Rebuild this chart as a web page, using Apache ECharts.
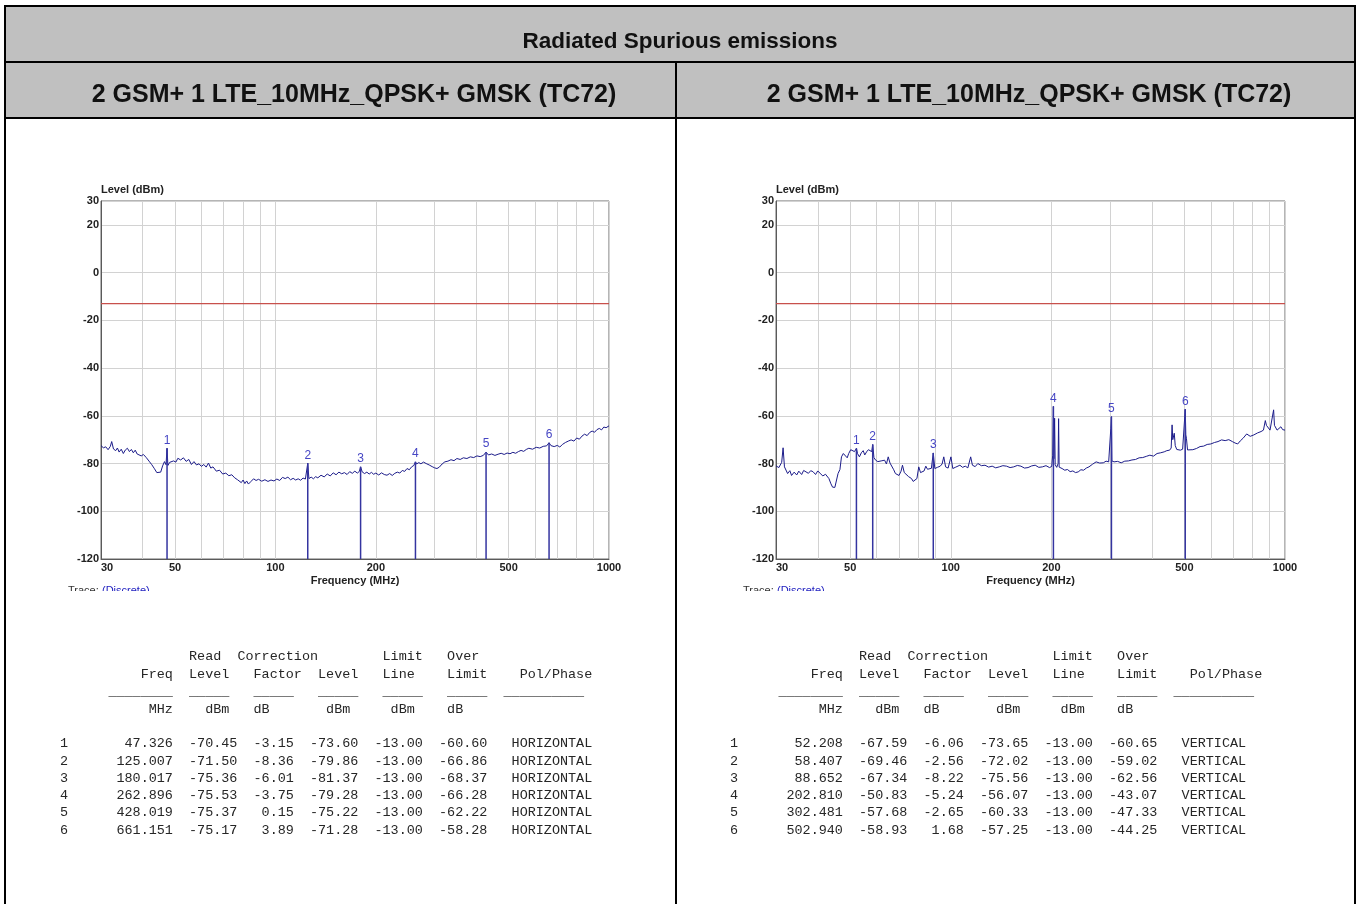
<!DOCTYPE html>
<html><head><meta charset="utf-8">
<script src="https://cdn.jsdelivr.net/npm/echarts@6/dist/echarts.min.js"></script>
<style>html,body{margin:0;padding:0;background:#fff}#c{width:1359px;height:904px}</style>
</head><body><div id="c"></div>
<script>
// ---------- data ----------
const mainTitle = 'Radiated Spurious emissions';
const leftSubtitle = '2 GSM+ 1 LTE_10MHz_QPSK+ GMSK (TC72)';
const rightSubtitle = '2 GSM+ 1 LTE_10MHz_QPSK+ GMSK (TC72)';
const xTickLabels = [30, 50, 100, 200, 500, 1000];
const xGridFreqs = [30, 40, 50, 60, 70, 80, 90, 100, 200, 300, 400, 500, 600, 700, 800, 900, 1000];
const yTickLabels = [-120, -100, -80, -60, -40, -20, 0, 20, 30];
const limitLevel = -13;

// left trace [MHz, dBm]
const leftTrace = [
 [30,-72.5],[30.5,-73.4],[31,-73.0],[31.5,-74.2],[32,-72.8],[32.3,-70.8],[32.7,-73.9],[33.2,-74.6],[33.6,-73.5],[34,-75.2],
 [34.5,-74.0],[35,-75.8],[35.5,-74.3],[36,-73.6],[36.5,-75.0],[37,-74.1],[37.5,-75.5],[38,-74.4],[38.5,-76.0],[39,-75.3],
 [39.6,-76.8],[40.2,-76.2],[41,-77.5],[41.8,-79.0],[42.6,-80.5],[43.4,-82.2],[44.1,-83.8],[44.7,-84.5],[45.3,-83.6],[45.9,-81.0],
 [46.5,-79.2],[47.0,-80.5],[47.326,-73.6],[47.6,-80.8],[48.2,-79.5],[48.8,-80.3],[49.5,-78.9],[50.3,-79.4],[51,-77.8],[52,-78.5],
 [53,-77.6],[54,-79.1],[55,-78.3],[56,-80.4],[57,-79.2],[58,-80.6],[59,-80.1],[60,-81.2],[61,-80.4],[62,-81.5],
 [63,-79.8],[64,-81.9],[65,-81.4],[66.5,-83.2],[68,-82.8],[69.5,-84.4],[71,-84.0],[72.5,-85.1],[74,-84.7],[75.5,-86.0],
 [77,-86.8],[78,-86.2],[79,-88.0],[80,-86.9],[81,-88.4],[82,-87.3],[83,-88.6],[84.5,-87.5],[86,-86.4],[87.5,-87.1],
 [89,-86.6],[91,-87.4],[93,-86.8],[95,-87.5],[97,-86.9],[99,-87.3],[101,-86.5],[103,-87.1],[105,-85.8],[107,-86.3],
 [109,-85.7],[111,-86.8],[113,-86.2],[115,-86.9],[117,-86.4],[119,-87.0],[121,-86.1],[123,-86.5],[125.007,-79.86],[126,-86.3],
 [128,-85.7],[130,-86.4],[132,-85.5],[134,-86.0],[137,-84.9],[140,-85.6],[143,-84.4],[146,-85.2],[149,-83.9],[152,-84.7],
 [155,-83.6],[158,-84.3],[161,-83.8],[164,-84.6],[167,-83.4],[170,-84.1],[173,-83.2],[176,-84.0],[178.5,-83.3],[180.017,-81.37],
 [182,-83.5],[185,-84.2],[188,-83.6],[191,-84.4],[194,-83.7],[197,-84.5],[200,-84.0],[204,-84.8],[208,-83.9],[212,-84.6],
 [216,-84.9],[220,-84.2],[224,-85.0],[228,-84.1],[232,-83.6],[236,-84.0],[240,-82.9],[244,-83.3],[248,-82.1],[252,-82.6],
 [256,-81.4],[260,-80.8],[262.896,-79.28],[265,-80.2],[269,-79.6],[273,-80.1],[278,-79.4],[283,-80.0],[289,-80.6],[295,-81.3],
 [300,-81.8],[305,-82.1],[310,-81.5],[316,-80.2],[322,-79.3],[329,-79.0],[336,-78.4],[343,-78.8],[350,-77.9],[358,-78.3],
 [366,-77.6],[375,-77.9],[384,-77.2],[393,-77.5],[402,-76.8],[411,-77.1],[420,-76.6],[428.019,-75.22],[435,-76.4],[445,-76.0],
 [455,-76.6],[465,-76.1],[475,-75.7],[485,-76.2],[495,-75.6],[505,-75.9],[515,-75.3],[525,-75.7],[535,-75.0],[545,-74.5],
 [555,-74.9],[565,-74.1],[575,-73.6],[590,-74.0],[605,-73.2],[620,-73.5],[635,-72.8],[650,-72.6],[661.151,-71.28],[670,-72.5],
 [685,-72.9],[700,-72.4],[712,-73.1],[725,-72.0],[740,-71.2],[755,-70.6],[770,-70.1],[785,-70.6],[800,-69.3],[815,-69.8],
 [830,-68.5],[845,-67.7],[860,-68.3],[875,-67.0],[890,-66.4],[905,-66.9],[920,-65.8],[935,-65.3],[950,-65.9],[965,-64.7],
 [980,-65.0],[1000,-64.2]
];

// right trace [MHz, dBm]
const rightTrace = [
 [30,-81.0],[30.6,-81.7],[31.2,-79.5],[31.5,-73.4],[31.8,-81.4],[32.5,-84.2],[33.0,-83.0],[33.4,-85.0],[34.0,-83.6],[34.6,-84.8],
 [35.1,-83.2],[35.8,-84.6],[36.3,-82.9],[36.8,-82.6],[37.5,-84.1],[38.1,-83.0],[38.7,-83.4],[39.4,-84.6],[40.0,-83.1],[40.6,-84.0],
 [41.4,-85.2],[42.2,-84.5],[43.2,-86.3],[43.8,-88.5],[44.3,-89.9],[45.0,-90.0],[45.4,-89.2],[46.0,-84.2],[46.6,-82.5],[47.1,-77.2],
 [47.7,-75.8],[48.3,-75.1],[49.0,-77.6],[49.5,-75.8],[50.2,-74.2],[50.8,-74.4],[51.5,-75.0],[52.0,-74.6],[52.208,-73.65],[52.6,-75.8],
 [53.3,-77.2],[54.0,-75.5],[54.7,-74.6],[55.3,-76.4],[56.0,-75.1],[56.7,-74.2],[57.4,-73.7],[58.0,-75.0],[58.407,-72.02],[58.9,-77.5],
 [59.6,-78.6],[60.5,-79.2],[61.9,-78.9],[62.6,-79.6],[63.4,-78.6],[64.2,-80.2],[65.0,-77.2],[65.8,-79.8],[66.6,-79.7],[67.5,-82.6],
 [68.3,-84.2],[69.2,-83.5],[70.0,-85.0],[71.0,-83.2],[71.7,-80.7],[72.6,-83.8],[73.5,-84.2],[74.8,-85.5],[76.3,-86.3],[77.2,-87.5],
 [78.2,-86.9],[79.2,-86.3],[80.2,-81.4],[81.2,-83.8],[82.2,-84.6],[83.2,-83.1],[84.2,-81.1],[85.2,-82.4],[86.3,-82.8],[87.5,-82.0],
 [88.652,-75.56],[89.6,-82.1],[91.2,-81.6],[93.0,-81.1],[94.2,-80.2],[95.3,-77.2],[96.5,-81.4],[98.2,-81.9],[100.1,-77.2],[101.4,-82.1],
 [103.5,-81.5],[106.5,-80.7],[108.5,-81.6],[110.5,-81.1],[112.5,-81.8],[114.7,-77.2],[116.1,-80.7],[118.3,-81.3],[120.5,-80.0],[123.5,-80.9],
 [126.6,-80.7],[129.8,-81.5],[133.0,-81.1],[136.3,-81.8],[139.7,-81.4],[143.2,-80.9],[146.8,-81.1],[150.5,-81.7],[154.3,-81.4],[158.2,-80.8],
 [162.1,-81.1],[166.2,-81.9],[170.3,-81.7],[174.6,-81.0],[178.9,-80.7],[183.4,-81.6],[188.0,-81.4],[192.7,-80.9],[197.5,-81.7],[200.5,-81.2],
 [201.8,-76.5],[202.81,-56.07],[203.5,-78.0],[204.5,-61.0],[205.3,-80.5],[207.5,-81.6],[209.5,-80.0],[210.2,-61.2],[211.0,-81.5],[215.3,-82.1],
 [219.3,-82.8],[223.4,-82.5],[227.6,-83.4],[231.9,-83.1],[236.2,-83.8],[240.6,-83.5],[245.1,-82.6],[249.7,-82.8],[254.4,-81.9],[259.1,-81.4],
 [265.5,-80.3],[272.2,-79.3],[279.0,-79.8],[286.0,-79.7],[291.5,-79.0],[296.8,-79.3],[300.3,-79.6],[301.2,-65.2],[302.481,-60.33],[303.5,-78.9],
 [308,-79.3],[315.7,-79.1],[323.5,-79.7],[331.6,-79.0],[339.9,-78.9],[348.4,-78.5],[357.1,-78.3],[366.1,-77.6],[375.2,-77.5],[384.6,-77.0],
 [394.2,-76.5],[404.1,-76.9],[414.2,-75.8],[424.6,-75.5],[435.1,-75.1],[443.0,-74.6],[451.6,-74.4],[456.5,-73.5],[459.4,-63.8],[461.5,-70.0],
 [466.3,-67.3],[469.5,-72.5],[474.4,-74.1],[480.3,-73.8],[486.3,-74.4],[494.0,-74.0],[500.5,-73.2],[502.94,-57.25],[505.0,-68.0],[507.1,-69.4],
 [511.0,-74.3],[517.2,-75.1],[530.0,-74.2],[543.4,-73.7],[557.0,-72.9],[570.9,-72.7],[585.0,-72.0],[599.8,-71.8],[615.0,-71.2],[630.3,-70.8],
 [646.0,-70.1],[662.1,-70.4],[679.0,-70.0],[695.8,-70.8],[709.0,-71.4],[721.9,-71.8],[735.0,-70.5],[749.2,-69.4],[768.0,-67.6],[787.0,-68.6],
 [807.0,-68.0],[827.0,-67.2],[847.9,-66.6],[862.0,-66.0],[873.2,-62.0],[880.0,-64.0],[891.0,-64.8],[902.0,-66.0],[913.2,-65.6],[924.6,-57.5],
 [930.0,-64.0],[935.8,-64.5],[947.0,-66.0],[959.2,-65.2],[972.0,-64.6],[984.0,-65.8],[995.0,-65.6],[1000,-66.0]
];

// marker tables
const leftMarkerFreq = [47.326, 125.007, 180.017, 262.896, 428.019, 661.151];
const leftReadLevel = [-70.45, -71.50, -75.36, -75.53, -75.37, -75.17];
const leftCorrFactor = [-3.15, -8.36, -6.01, -3.75, 0.15, 3.89];
const leftMarkerLevel = [-73.60, -79.86, -81.37, -79.28, -75.22, -71.28];
const leftLimitLine = [-13.00, -13.00, -13.00, -13.00, -13.00, -13.00];
const leftOverLimit = [-60.60, -66.86, -68.37, -66.28, -62.22, -58.28];
const leftPol = ['HORIZONTAL', 'HORIZONTAL', 'HORIZONTAL', 'HORIZONTAL', 'HORIZONTAL', 'HORIZONTAL'];

const rightMarkerFreq = [52.208, 58.407, 88.652, 202.810, 302.481, 502.940];
const rightReadLevel = [-67.59, -69.46, -67.34, -50.83, -57.68, -58.93];
const rightCorrFactor = [-6.06, -2.56, -8.22, -5.24, -2.65, 1.68];
const rightMarkerLevel = [-73.65, -72.02, -75.56, -56.07, -60.33, -57.25];
const rightLimitLine = [-13.00, -13.00, -13.00, -13.00, -13.00, -13.00];
const rightOverLimit = [-60.65, -59.02, -62.56, -43.07, -47.33, -44.25];
const rightPol = ['VERTICAL', 'VERTICAL', 'VERTICAL', 'VERTICAL', 'VERTICAL', 'VERTICAL'];

// ---------- build ----------
const L = Math.log10;
const chart = echarts.init(document.getElementById('c'), null, {renderer: 'canvas'});
const SANS = 'Liberation Sans, Arial, sans-serif';
const MONO = 'Liberation Mono, DejaVu Sans Mono, monospace';
const traceColor = '#1c1c8a';
const markerColor = '#3434a0';
const markerTextColor = '#4646c4';

const grids = [
  {left: 101, top: 201, width: 508, height: 358},
  {left: 776, top: 201, width: 509, height: 358}
];

function xAxisFor(i) {
  return {
    gridIndex: i, type: 'value', min: L(30), max: 3,
    axisLine: {show: true, onZero: false, lineStyle: {color: '#5a5a5a', width: 1}},
    axisTick: {show: false, customValues: xGridFreqs.map(L)},
    splitLine: {show: true, lineStyle: {color: '#d2d2d2', width: 1}},
    axisLabel: {
      customValues: xTickLabels.map(L),
      formatter: v => String(Math.round(Math.pow(10, v))),
      fontFamily: SANS, fontWeight: 'bold', fontSize: 11, color: '#222', margin: 3,
      alignMinLabel: 'left', hideOverlap: false
    },
    name: 'Frequency (MHz)', nameLocation: 'middle', nameGap: 16,
    nameTextStyle: {fontFamily: SANS, fontWeight: 'bold', fontSize: 11, color: '#222'}
  };
}
function yAxisFor(i) {
  return {
    gridIndex: i, type: 'value', min: -120, max: 30,
    axisLine: {show: true, onZero: false, lineStyle: {color: '#5a5a5a', width: 1}},
    axisTick: {show: false, customValues: yTickLabels},
    splitLine: {show: true, lineStyle: {color: '#d2d2d2', width: 1}},
    axisLabel: {customValues: yTickLabels, fontFamily: SANS, fontWeight: 'bold', fontSize: 11, color: '#222', margin: 2},
    name: 'Level (dBm)', nameLocation: 'end', nameGap: 2,
    nameTextStyle: {fontFamily: SANS, fontWeight: 'bold', fontSize: 11, color: '#222', align: 'left', verticalAlign: 'bottom'}
  };
}

function markerSeries(i, freqs, levels) {
  return {
    type: 'custom', xAxisIndex: i, yAxisIndex: i, silent: true, z: 5,
    data: freqs.map((f, k) => [L(f), levels[k], k + 1]),
    renderItem: (params, api) => {
      const top = api.coord([api.value(0), api.value(1)]);
      const bot = api.coord([api.value(0), -120]);
      return {type: 'group', children: [
        {type: 'line', shape: {x1: top[0], y1: top[1], x2: bot[0], y2: bot[1]},
         style: {stroke: markerColor, lineWidth: 1.5}},
        {type: 'text', x: top[0], y: top[1] - 2,
         style: {text: String(api.value(2)), textAlign: 'center', textVerticalAlign: 'bottom',
                 fill: markerTextColor, font: '12px ' + SANS}}
      ]};
    }
  };
}

function tableLines(freq, read, corr, level, limit, over, pol) {
  const p = (v, n, d) => v.toFixed(d).padStart(n, ' ');
  const lines = [
    ' '.repeat(16) + 'Read  Correction' + ' '.repeat(8) + 'Limit' + '   ' + 'Over',
    ' '.repeat(10) + 'Freq  Level   Factor  Level   Line    Limit    Pol/Phase',
    ' '.repeat(6) + '_'.repeat(8) + '  ' + '_'.repeat(5) + '   ' + '_'.repeat(5) + '   ' + '_'.repeat(5) + '   ' + '_'.repeat(5) + '   ' + '_'.repeat(5) + '  ' + '_'.repeat(10),
    ' '.repeat(11) + 'MHz' + '    ' + 'dBm' + '   ' + 'dB' + '       ' + 'dBm' + '     ' + 'dBm' + '    ' + 'dB',
    ''
  ];
  freq.forEach((f, k) => {
    lines.push(String(k + 1) + ' '.repeat(6) + p(f, 7, 3) + '  ' + p(read[k], 6, 2) + '  ' + p(corr[k], 5, 2) + '  ' +
      p(level[k], 6, 2) + '  ' + p(limit[k], 6, 2) + '  ' + p(over[k], 6, 2) + '   ' + pol[k]);
  });
  return lines;
}

const graphics = [];
// table frame
graphics.push({type: 'rect', z: 0, shape: {x: 5, y: 6, width: 1350, height: 112}, style: {fill: '#c0c0c0'}});
const blk = {stroke: '#000', lineWidth: 2};
[[5, 6, 1355, 6], [5, 62, 1355, 62], [5, 118, 1355, 118], [5, 5, 5, 904], [1355, 5, 1355, 904], [676, 62, 676, 904]]
  .forEach(s => graphics.push({type: 'line', z: 1, shape: {x1: s[0], y1: s[1], x2: s[2], y2: s[3]}, style: blk}));
graphics.push({type: 'text', z: 2, x: 680, y: 42, style: {text: mainTitle, font: 'bold 22.5px ' + SANS, fill: '#111', textAlign: 'center', textVerticalAlign: 'middle'}});
graphics.push({type: 'text', z: 2, x: 354, y: 95, style: {text: leftSubtitle, font: 'bold 25px ' + SANS, fill: '#111', textAlign: 'center', textVerticalAlign: 'middle'}});
graphics.push({type: 'text', z: 2, x: 1029, y: 95, style: {text: rightSubtitle, font: 'bold 25px ' + SANS, fill: '#111', textAlign: 'center', textVerticalAlign: 'middle'}});

// cut-off trace caption under each plot
[[68, 102], [743, 777]].forEach(([a, b]) => {
  graphics.push({type: 'text', z: 2, x: a, y: 585, style: {text: 'Trace:', font: '11px ' + SANS, fill: '#333', textVerticalAlign: 'top'}});
  graphics.push({type: 'text', z: 2, x: b, y: 585, style: {text: '(Discrete)', font: '11px ' + SANS, fill: '#2020c0', textVerticalAlign: 'top'}});
  graphics.push({type: 'rect', z: 3, shape: {x: a - 4, y: 591, width: 120, height: 12}, style: {fill: '#fff'}});
});

// data tables
const lineY = [656.7, 674, 691.3, 709.5, 726.5, 743.7, 761, 778.3, 795.6, 812.9, 830.2];
function pushTable(x0, lines) {
  lines.forEach((t, k) => {
    if (!t) return;
    graphics.push({type: 'text', z: 2, x: x0, y: lineY[k], style: {text: t, font: '13.45px ' + MONO, fill: '#262626', textVerticalAlign: 'middle'}});
  });
}
pushTable(60, tableLines(leftMarkerFreq, leftReadLevel, leftCorrFactor, leftMarkerLevel, leftLimitLine, leftOverLimit, leftPol));
pushTable(730, tableLines(rightMarkerFreq, rightReadLevel, rightCorrFactor, rightMarkerLevel, rightLimitLine, rightOverLimit, rightPol));

const option = {
  animation: false,
  backgroundColor: '#fff',
  grid: grids.map(g => Object.assign({show: true, borderColor: '#6a6a6a', borderWidth: 1, backgroundColor: '#fff'}, g)),
  xAxis: [xAxisFor(0), xAxisFor(1)],
  yAxis: [yAxisFor(0), yAxisFor(1)],
  series: [
    {type: 'line', xAxisIndex: 0, yAxisIndex: 0, data: leftTrace.map(d => [L(d[0]), d[1]]), symbol: 'none',
     lineStyle: {color: traceColor, width: 1}, z: 4, silent: true},
    {type: 'line', xAxisIndex: 1, yAxisIndex: 1, data: rightTrace.map(d => [L(d[0]), d[1]]), symbol: 'none',
     lineStyle: {color: traceColor, width: 1}, z: 4, silent: true},
    {type: 'line', xAxisIndex: 0, yAxisIndex: 0, data: [[L(30), limitLevel], [3, limitLevel]], symbol: 'none',
     lineStyle: {color: '#c8504c', width: 1.3}, z: 3, silent: true},
    {type: 'line', xAxisIndex: 1, yAxisIndex: 1, data: [[L(30), limitLevel], [3, limitLevel]], symbol: 'none',
     lineStyle: {color: '#c8504c', width: 1.3}, z: 3, silent: true},
    markerSeries(0, leftMarkerFreq, leftMarkerLevel),
    markerSeries(1, rightMarkerFreq, rightMarkerLevel)
  ],
  graphic: {elements: graphics}
};
chart.setOption(option);
</script>
</body></html>
